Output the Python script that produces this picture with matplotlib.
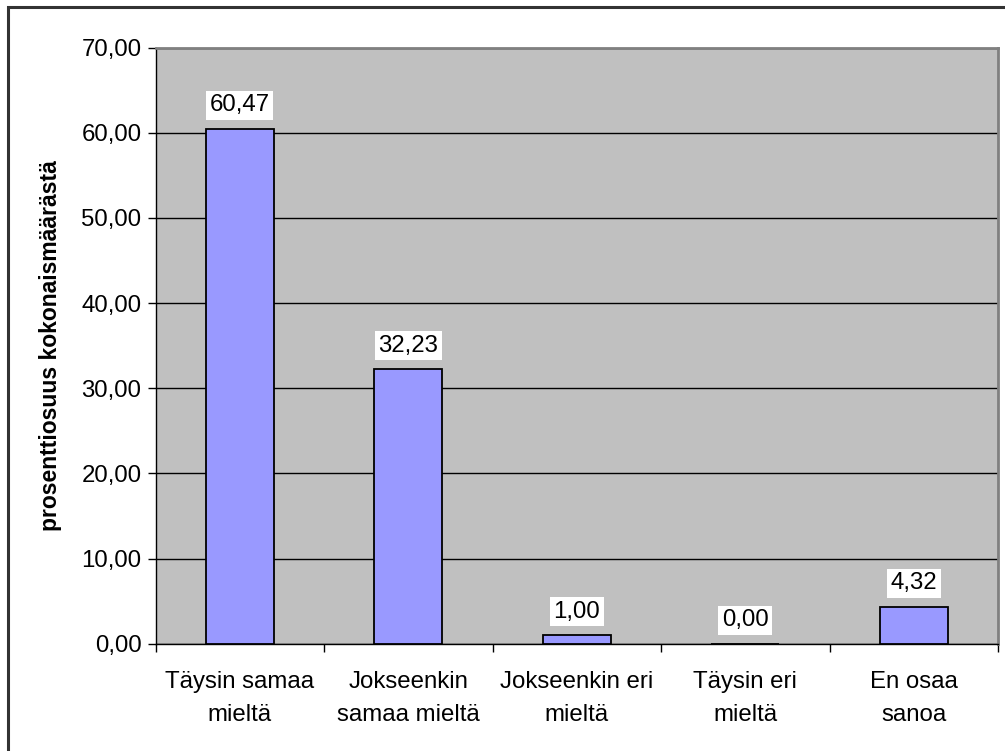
import matplotlib
matplotlib.use("Agg")
import matplotlib.pyplot as plt
from matplotlib.patches import Rectangle

categories = ["Täysin samaa\nmieltä", "Jokseenkin\nsamaa mieltä", "Jokseenkin eri\nmieltä",
              "Täysin eri\nmieltä", "En osaa\nsanoa"]
values = [60.47, 32.23, 1.00, 0.00, 4.32]
yticks = [0, 10, 20, 30, 40, 50, 60, 70]

plt.rcParams['font.family'] = ['Liberation Sans', 'DejaVu Sans']

fig = plt.figure(figsize=(10.05, 7.51), dpi=100)
# outer chart border (only left/top visible in the reference)
fig.patches.append(Rectangle((8 / 1005, -0.01), 1.05, 1 - 7 / 751 + 0.01, transform=fig.transFigure,
                             fill=False, edgecolor='#333333', linewidth=2.2))

ax = fig.add_axes([155.5 / 1005, 1 - 643.7 / 751, 842.5 / 1005, 596.2 / 751])
ax.set_facecolor('#C0C0C0')

x = list(range(len(values)))
ax.bar(x, values, width=0.405, color='#9999FF', edgecolor='black', linewidth=1.3, zorder=3)

for xi, v in zip(x, values):
    ax.annotate(f"{v:.2f}".replace('.', ','), (xi, v), xytext=(0, 9), textcoords='offset points',
                ha='center', va='bottom', fontsize=17.3, zorder=4,
                bbox=dict(boxstyle='square,pad=0.15', facecolor='white', edgecolor='none'))

ax.set_xlim(-0.5, len(values) - 0.5)
ax.set_ylim(0, 70)
ax.set_yticks(yticks)
ax.set_yticklabels([f"{t:.2f}".replace('.', ',') for t in yticks], fontsize=17.3)
ax.yaxis.grid(True, color='black', linewidth=1.0, zorder=0)
ax.set_axisbelow(True)

ax.set_xticks(x)
ax.set_xticklabels(categories, fontsize=17.3, linespacing=1.6)
ax.tick_params(axis='x', length=0, pad=20)
ax.set_xticks([i - 0.5 for i in range(len(values) + 1)], minor=True)
ax.tick_params(axis='x', which='minor', length=6, width=1, direction='out')
ax.tick_params(axis='y', length=6, width=1, direction='out', pad=4)

for s in ['left', 'bottom']:
    ax.spines[s].set_color('black')
    ax.spines[s].set_linewidth(1.0)
for s in ['top', 'right']:
    ax.spines[s].set_color('#808080')
    ax.spines[s].set_linewidth(2.0)

ax.set_ylabel("prosenttiosuus kokonaismäärästä", fontsize=16.5, fontweight='bold', labelpad=14)

fig.savefig("out.png", dpi=100)
